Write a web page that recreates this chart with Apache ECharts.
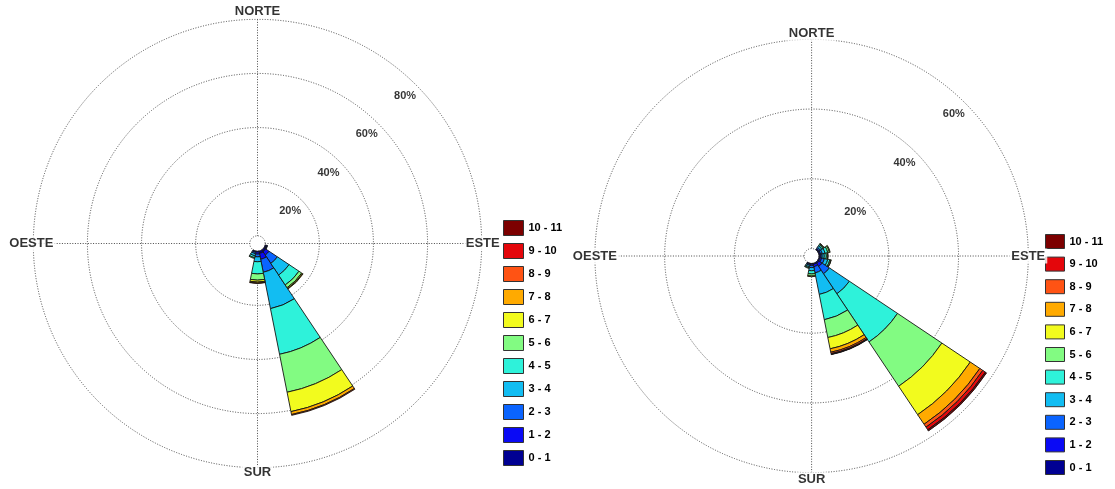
<!DOCTYPE html>
<html>
<head>
<meta charset="utf-8">
<script src="https://cdn.jsdelivr.net/npm/echarts@6/dist/echarts.min.js"></script>
<style>
  html, body { margin: 0; padding: 0; background: #fff; }
  #chart { width: 1115px; height: 489px; }
</style>
</head>
<body>
<div id="chart"></div>
<script>
// 16 compass sectors, clockwise from north
const directions = ['N', 'NNE', 'NE', 'ENE', 'E', 'ESE', 'SE', 'SSE', 'S', 'SSW', 'SW', 'WSW', 'W', 'WNW', 'NW', 'NNW'];
// wind speed classes (m/s)
const speedBins = ['0 - 1', '1 - 2', '2 - 3', '3 - 4', '4 - 5', '5 - 6', '6 - 7', '7 - 8', '8 - 9', '9 - 10', '10 - 11'];
const binColors = ['#000092', '#0a0af5', '#0a64ff', '#12bdf2', '#2ef2da', '#82fb82', '#f2fb1e', '#ffaa00', '#ff5314', '#e4060b', '#7c0000'];

// frequency rings (%)
const leftRings = [20, 40, 60, 80];
const rightRings = [20, 40, 60];

const compassNames = ['NORTE', 'ESTE', 'SUR', 'OESTE'];
const compassBearings = [0, 90, 180, 270];

// Left rose: frequency (%) of each speed class, per direction
const leftESE = [0.5, 0.3, 0.1, 0, 0, 0, 0, 0, 0, 0, 0];
const leftSE  = [0.8, 1.5, 3.7, 5.2, 4.4, 1.2, 0.4, 0.2, 0, 0, 0];
const leftSSE = [0.9, 2.2, 4.9, 13.7, 17.2, 14.3, 7.3, 1.1, 0.3, 0, 0];
const leftS   = [0.3, 0.8, 1.0, 1.8, 4.5, 2.3, 0.7, 0.4, 0.1, 0, 0];
const leftSSW = [0.2, 0.3, 0.5, 0.8, 0.7, 0.3, 0, 0, 0, 0, 0];

// Right rose: frequency (%) of each speed class, per direction
const rightNE  = [0.2, 0.3, 0.4, 0.5, 0.4, 0.3, 0.1, 0, 0, 0, 0];
const rightENE = [0.2, 0.3, 0.5, 0.8, 0.8, 0.5, 0.2, 0, 0, 0, 0];
const rightE   = [0.2, 0.3, 0.4, 0.6, 0.6, 0.4, 0.1, 0, 0, 0, 0];
const rightESE = [0.3, 0.5, 0.8, 1.0, 0.6, 0.3, 0.1, 0, 0, 0, 0];
const rightSE  = [0.5, 1.0, 2.5, 6.9, 16.6, 15.3, 9.8, 3.3, 1.0, 0.9, 0.4];
const rightSSE = [0.3, 0.7, 1.8, 6.3, 7.4, 5.2, 3.3, 1.0, 0.4, 0.2, 0.1];
const rightS   = [0.2, 0.4, 0.6, 0.9, 0.9, 0.6, 0.2, 0, 0, 0, 0];
const rightSSW = [0.1, 0.2, 0.3, 0.4, 0.3, 0.2, 0, 0, 0, 0, 0];

const leftRose  = { ESE: leftESE, SE: leftSE, SSE: leftSSE, S: leftS, SSW: leftSSW };
const rightRose = { NE: rightNE, ENE: rightENE, E: rightE, ESE: rightESE, SE: rightSE, SSE: rightSSE, S: rightS, SSW: rightSSW };

const FONT = 'Liberation Sans, Arial, sans-serif';
const gridLine = { color: '#4a4a4a', width: 1, type: [1, 1.6] };

// polar layouts: bars and grid share centre and radii
const layouts = [
  { center: [257.5, 243.5], radius: [7.7, 224.2], rings: leftRings, rose: leftRose,
    compassOffsets: [[0, -8], [1, 0], [0, 5], [-2, 0]] },
  { center: [811.6, 256], radius: [7.45, 216.7], rings: rightRings, rose: rightRose,
    compassOffsets: [[0, -6], [0, 0], [0, 7], [0, 0]] }
];

const polar = [], angleAxis = [], radiusAxis = [], series = [];
const hidden = { axisLine: { show: false }, axisTick: { show: false }, axisLabel: { show: false } };

layouts.forEach((lay, k) => {
  const barPolar = polar.length;
  const gridPolar = barPolar + 1;
  const rMax = lay.rings[lay.rings.length - 1];
  const step = lay.rings[1] - lay.rings[0];

  polar.push({ center: lay.center, radius: lay.radius });
  polar.push({ center: lay.center, radius: lay.radius });

  // bar coordinate system: one band per compass sector, N centred at top
  angleAxis.push(Object.assign({
    polarIndex: barPolar, type: 'category', data: directions,
    startAngle: 90 + 180 / directions.length, clockwise: true,
    splitLine: { show: false }
  }, hidden));
  radiusAxis.push(Object.assign({
    polarIndex: barPolar, type: 'value', min: 0, max: rMax, splitLine: { show: false }
  }, hidden));

  // grid: dotted rings and the N-S / E-W cross
  angleAxis.push(Object.assign({
    polarIndex: gridPolar, type: 'value', min: 0, max: 360, interval: 90,
    startAngle: 90, clockwise: true,
    splitLine: { show: true, lineStyle: gridLine }
  }, hidden));
  radiusAxis.push(Object.assign({
    polarIndex: gridPolar, type: 'value', min: 0, max: rMax, interval: step,
    splitLine: { show: true, lineStyle: gridLine }
  }, hidden));

  // stacked speed classes
  speedBins.forEach((name, b) => {
    series.push({
      type: 'bar', coordinateSystem: 'polar', polarIndex: barPolar,
      name: name, stack: 'rose' + k, barCategoryGap: '0%', silent: true,
      data: directions.map(d => {
        const v = lay.rose[d] ? lay.rose[d][b] : 0;
        return v > 0 ? v : '-';
      }),
      itemStyle: { color: binColors[b], borderColor: '#141414', borderWidth: 0.9 }
    });
  });

  // ring percentage labels along the NE diagonal
  series.push({
    type: 'scatter', coordinateSystem: 'polar', polarIndex: gridPolar,
    symbolSize: 1, itemStyle: { color: 'rgba(0,0,0,0)' }, silent: true, z: 6,
    data: lay.rings.map(v => [v, 45]),
    label: {
      show: true, position: 'inside', offset: [-11, 11],
      formatter: p => p.value[0] + '%',
      fontFamily: FONT, fontWeight: 'bold', fontSize: 11, color: '#000'
    }
  });

  // compass point names on the outer ring
  series.push({
    type: 'scatter', coordinateSystem: 'polar', polarIndex: gridPolar,
    symbolSize: 1, itemStyle: { color: 'rgba(0,0,0,0)' }, silent: true, z: 6,
    data: compassNames.map((n, i) => ({
      name: n, value: [rMax, compassBearings[i]],
      label: { offset: lay.compassOffsets[i] }
    })),
    label: {
      show: true, position: 'inside', formatter: p => p.name,
      fontFamily: FONT, fontWeight: 'bold', fontSize: 13, color: '#000',
      backgroundColor: '#fff', padding: [1, 2]
    }
  });
});

const legendNames = speedBins.slice().reverse();
const legendBase = {
  orient: 'vertical', data: legendNames, icon: 'rect', selectedMode: false, padding: 0,
  itemStyle: { borderColor: '#333', borderWidth: 1 },
  textStyle: { fontFamily: FONT, fontWeight: 'bold', fontSize: 11, color: '#000' }
};

const chart = echarts.init(document.getElementById('chart'), null, { renderer: 'canvas' });
chart.setOption({
  backgroundColor: '#fff',
  animation: false,
  polar, angleAxis, radiusAxis,
  legend: [
    Object.assign({ left: 503, top: 220, itemWidth: 20, itemHeight: 15, itemGap: 7 }, legendBase),
    Object.assign({ left: 1045, top: 234, itemWidth: 19, itemHeight: 14, itemGap: 7.6 }, legendBase)
  ],
  series
});
</script>
</body>
</html>
